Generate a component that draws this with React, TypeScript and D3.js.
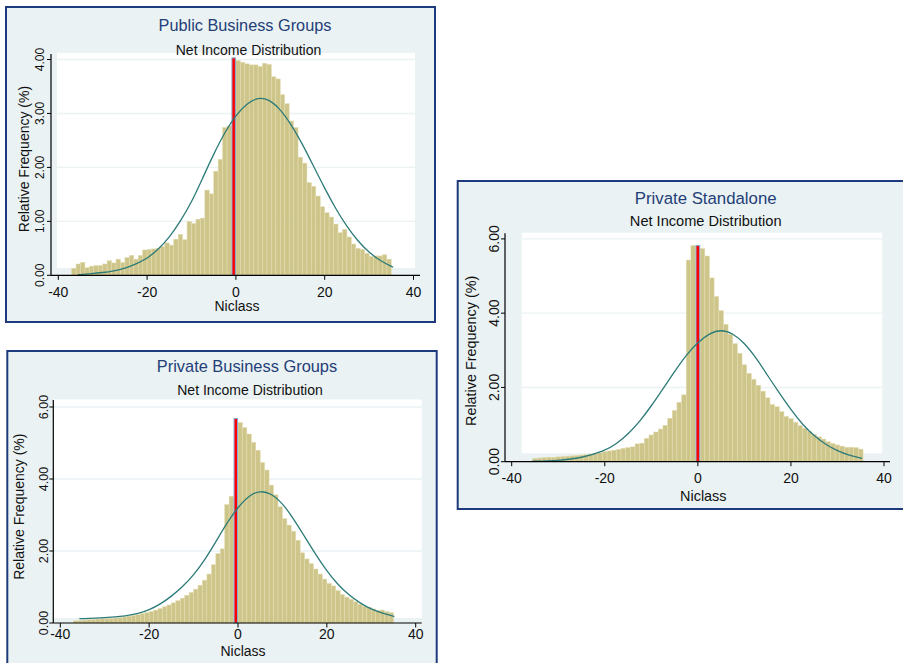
import React from "react";
import * as d3 from "d3";

// ---------- DATA ----------
const X_TICKS = [-40, -20, 0, 20, 40];
const Y_TICKS_PUBLIC = [0, 1, 2, 3, 4];
const Y_TICKS_PRIVATE = [0, 2, 4, 6];
const X_TITLE = "Niclass";
const Y_TITLE = "Relative Frequency (%)";
const SUBTITLE = "Net Income Distribution";

// Public Business Groups: bins of width 1 starting at -37
const PUBLIC_TITLE = "Public Business Groups";
const PUBLIC_BIN_START = -37;
const PUBLIC_RED_BIN = -1;
const publicHeights = [
  0.13, 0.21, 0.24, 0.14, 0.17, 0.18, 0.18, 0.21, 0.27, 0.23, 0.3, 0.24, 0.33, 0.37, 0.3, 0.37, 0.47,
  0.48, 0.49, 0.5, 0.53, 0.6, 0.56, 0.67, 0.76, 0.66, 1.0, 0.96, 1.04, 1.06, 1.58, 1.51, 1.93, 2.15, 2.74, 2.77,
  4.03,
  3.98, 3.95, 3.92, 3.9, 3.9, 3.87, 3.93, 3.91, 3.68, 3.64, 3.35, 3.18, 2.86, 2.74, 2.19, 2.08, 1.72, 1.65,
  1.47, 1.27, 1.16, 1.08, 0.95, 0.79, 0.85, 0.71, 0.58, 0.5, 0.48, 0.41, 0.35, 0.36, 0.36, 0.38, 0.3,
];
const publicCurveX = [-35.6, -32.5, -30, -27.5, -25, -22.5, -20, -17.5, -15, -12.5, -10, -7.5, -5, -2.5, 0, 2.5, 5, 7.5, 10, 12.5, 15, 17.5, 20, 22.5, 25, 27.5, 30, 32.5, 35.4];
const publicCurveY = [0.01, 0.03, 0.05, 0.08, 0.13, 0.21, 0.31, 0.48, 0.7, 1.0, 1.35, 1.8, 2.25, 2.65, 2.97, 3.19, 3.3, 3.26, 3.08, 2.79, 2.43, 2.02, 1.61, 1.23, 0.9, 0.63, 0.42, 0.27, 0.15];

// Private Business Groups
const PRIVBG_TITLE = "Private Business Groups";
const PRIVBG_BIN_START = -37;
const PRIVBG_RED_BIN = -1;
const privBGHeights = [
  0.06, 0.07, 0.08, 0.09, 0.1, 0.11, 0.12, 0.12, 0.13, 0.14, 0.15, 0.17, 0.19, 0.21, 0.23, 0.26, 0.29, 0.32,
  0.36, 0.4, 0.45, 0.5, 0.56, 0.62, 0.69, 0.77, 0.85, 0.94, 1.05, 1.19, 1.36, 1.62, 1.93, 2.06, 3.29, 3.52,
  5.68,
  5.57, 5.43, 5.25, 5.02, 4.8, 4.46, 4.25, 3.83, 3.56, 3.23, 2.9, 2.72, 2.55, 2.3, 1.95, 1.78, 1.65, 1.5,
  1.36, 1.22, 1.1, 1.03, 0.9, 0.79, 0.72, 0.66, 0.59, 0.52, 0.46, 0.44, 0.39, 0.35, 0.36, 0.32, 0.29,
];
const privBGCurveX = [-35.7, -30, -25, -22.5, -20, -17.5, -15, -12.5, -10, -7.5, -5, -2.5, 0, 2.5, 5, 7.5, 10, 12.5, 15, 17.5, 20, 22.5, 25, 27.5, 30, 32.5, 35.2];
const privBGCurveY = [0.12, 0.14, 0.2, 0.26, 0.36, 0.52, 0.74, 1.0, 1.33, 1.75, 2.25, 2.78, 3.22, 3.55, 3.68, 3.6, 3.33, 2.9, 2.4, 1.9, 1.44, 1.06, 0.77, 0.55, 0.38, 0.27, 0.18];

// Private Standalone: bins of width 1 centred on integers
const STAND_TITLE = "Private Standalone";
const STAND_BIN_START = -35.5;
const STAND_RED_BIN = -0.5;
const standHeights = [
  0.09, 0.1, 0.11, 0.12, 0.12, 0.13, 0.14, 0.15, 0.16, 0.17, 0.18, 0.19, 0.21, 0.22, 0.24, 0.27, 0.29, 0.31,
  0.33, 0.36, 0.38, 0.4, 0.48, 0.5, 0.63, 0.72, 0.8, 0.88, 0.98, 1.17, 1.38, 1.6, 1.8, 5.43, 5.82,
  5.82,
  5.74, 5.54, 4.95, 4.45, 4.07, 3.7, 3.43, 3.18, 2.92, 2.61, 2.38, 2.22, 2.06, 1.9, 1.72, 1.54, 1.48, 1.35,
  1.22, 1.16, 1.06, 0.97, 0.9, 0.81, 0.74, 0.67, 0.61, 0.54, 0.49, 0.45, 0.42, 0.39, 0.39, 0.38, 0.34,
];
const standCurveX = [-35.7, -30, -25, -20, -17.5, -15, -12.5, -10, -7.5, -5, -2.5, 0, 2.5, 5, 7.5, 10, 12.5, 15, 17.5, 20, 22.5, 25, 27.5, 30, 32.5, 35.3];
const standCurveY = [0.01, 0.03, 0.1, 0.29, 0.48, 0.74, 1.08, 1.5, 1.96, 2.43, 2.87, 3.22, 3.46, 3.56, 3.46, 3.2, 2.8, 2.32, 1.85, 1.4, 1.0, 0.69, 0.46, 0.29, 0.17, 0.09];

// ---------- STYLE ----------
const FONT = "'Liberation Sans', Arial, Helvetica, sans-serif";
const BG = "#EAF2F3";
const FRAME = "#1D3B7C";
const TITLE_COLOR = "#243E78";
const BAR_FILL = "#CEC58B";
const BAR_STROKE = "#E4DEB2";
const RED = "#FF0000";
const RED_STROKE = "#86A8CF";
const CURVE = "#2C7B78";

type Layout = {
  frame: [number, number, number, number];
  titleX: number; titleY: number; titleSize: number;
  subX: number; subY: number; subSize: number;
  plot: [number, number, number, number];
  xPx: [number, number];
  yPx: [number, number];
  yMax: number;
  yAxisX: number; axisTop: number; xAxisRight: number;
  yLabelX: number; yLabelSize: number;
  xLabelY: number; xLabelSize: number;
  xTitleX: number; xTitleY: number; axisTitleSize: number;
  yTitleX: number; yTitleY: number;
};

type PanelProps = {
  layout: Layout;
  title: string;
  heights: number[];
  binStart: number;
  redBin: number;
  curveX: number[];
  curveY: number[];
  yTicks: number[];
};

function Panel({ layout: L, title, heights, binStart, redBin, curveX, curveY, yTicks }: PanelProps) {
  const x = d3.scaleLinear().domain([-40, 40]).range(L.xPx);
  const y = d3.scaleLinear().domain([0, L.yMax]).range(L.yPx);
  const bins = heights.map((h, i) => ({ x0: binStart + i, x1: binStart + i + 1, h }));
  const redIdx = Math.round(redBin - binStart);
  const red = bins[redIdx];
  const line = d3
    .line<number>()
    .x((_, i) => x(curveX[i]))
    .y((d) => y(d))
    .curve(d3.curveBasis);
  const [fx, fy, fw, fh] = L.frame;
  const [px0, py0, px1, py1] = L.plot;
  const fmt = d3.format(".2f");
  return (
    <g fontFamily={FONT}>
      <rect x={fx} y={fy} width={fw} height={fh} fill={BG} stroke={FRAME} strokeWidth={2} />
      <rect x={px0} y={py0} width={px1 - px0} height={py1 - py0} fill="#FFFFFF" />
      {yTicks.filter((t) => t > 0).map((t) => (
        <line key={"g" + t} x1={px0} x2={px1} y1={y(t)} y2={y(t)} stroke={BG} strokeWidth={1.4} />
      ))}
      {bins.map((b, i) =>
        i === redIdx ? null : (
          <rect
            key={"b" + i}
            x={x(b.x0)}
            y={y(b.h)}
            width={x(b.x1) - x(b.x0)}
            height={y(0) - y(b.h)}
            fill={BAR_FILL}
            stroke={BAR_STROKE}
            strokeWidth={0.5}
          />
        )
      )}
      <rect
        x={x(red.x0) + 0.5}
        y={y(red.h)}
        width={x(red.x1) - x(red.x0) - 1}
        height={y(0) - y(red.h)}
        fill={RED}
        stroke={RED_STROKE}
        strokeWidth={1}
      />
      <path d={line(curveY) || ""} fill="none" stroke={CURVE} strokeWidth={1.3} />
      {/* axes */}
      <line x1={L.yAxisX} x2={L.yAxisX} y1={L.axisTop} y2={y(0)} stroke="#000" strokeWidth={1.2} />
      <line x1={L.yAxisX} x2={L.xAxisRight} y1={y(0)} y2={y(0)} stroke="#000" strokeWidth={1.2} />
      {yTicks.map((t) => (
        <g key={"yt" + t}>
          <line x1={L.yAxisX - 4} x2={L.yAxisX} y1={y(t)} y2={y(t)} stroke="#000" strokeWidth={1} />
          <text
            transform={`translate(${L.yLabelX},${y(t)}) rotate(-90)`}
            textAnchor="middle"
            dy="0.36em"
            fontSize={L.yLabelSize}
            fill="#111"
          >
            {fmt(t)}
          </text>
        </g>
      ))}
      {X_TICKS.map((t) => (
        <g key={"xt" + t}>
          <line x1={x(t)} x2={x(t)} y1={y(0)} y2={y(0) + 4.5} stroke="#000" strokeWidth={1} />
          <text x={x(t)} y={L.xLabelY} textAnchor="middle" fontSize={L.xLabelSize} fill="#111">
            {t}
          </text>
        </g>
      ))}
      <text x={L.xTitleX} y={L.xTitleY} textAnchor="middle" fontSize={L.axisTitleSize} fill="#111">
        {X_TITLE}
      </text>
      <text
        transform={`translate(${L.yTitleX},${L.yTitleY}) rotate(-90)`}
        textAnchor="middle"
        dy="0.36em"
        fontSize={L.axisTitleSize}
        fill="#111"
      >
        {Y_TITLE}
      </text>
      <text x={L.titleX} y={L.titleY} textAnchor="middle" fontSize={L.titleSize} fill={TITLE_COLOR}>
        {title}
      </text>
      <text x={L.subX} y={L.subY} textAnchor="middle" fontSize={L.subSize} fill="#111">
        {SUBTITLE}
      </text>
    </g>
  );
}

const layoutPublic: Layout = {
  frame: [6, 7, 429, 315],
  titleX: 245, titleY: 30.5, titleSize: 16.3,
  subX: 248.5, subY: 55, subSize: 14,
  plot: [57, 53, 415, 268],
  xPx: [58.3, 413.5], yPx: [275.3, 59.5], yMax: 4,
  yAxisX: 51, axisTop: 54, xAxisRight: 420,
  yLabelX: 40, yLabelSize: 12,
  xLabelY: 296.5, xLabelSize: 14,
  xTitleX: 237, xTitleY: 310.7, axisTitleSize: 14,
  yTitleX: 24, yTitleY: 159,
};

const layoutPrivBG: Layout = {
  frame: [7.3, 351, 429.4, 330],
  titleX: 247, titleY: 371.7, titleSize: 16.4,
  subX: 250, subY: 395, subSize: 14,
  plot: [54, 399.5, 421.7, 618],
  xPx: [60.3, 415.7], yPx: [623, 407], yMax: 6,
  yAxisX: 53.3, axisTop: 400, xAxisRight: 421.7,
  yLabelX: 43.3, yLabelSize: 12.5,
  xLabelY: 639, xLabelSize: 14,
  xTitleX: 243, xTitleY: 655.7, axisTitleSize: 14,
  yTitleX: 18.5, yTitleY: 506.7,
};

const layoutStand: Layout = {
  frame: [457.7, 181, 450, 328],
  titleX: 705.7, titleY: 204.3, titleSize: 16.8,
  subX: 705.7, subY: 225.7, subSize: 14.6,
  plot: [521.7, 232.7, 882.3, 453.3],
  xPx: [511.7, 884], yPx: [461.7, 238.9], yMax: 6,
  yAxisX: 505, axisTop: 233.3, xAxisRight: 890,
  yLabelX: 494.3, yLabelSize: 14,
  xLabelY: 483.3, xLabelSize: 14,
  xTitleX: 703.3, xTitleY: 500.5, axisTitleSize: 14.4,
  yTitleX: 471, yTitleY: 350.8,
};

export default function App() {
  return (
    <svg
      width={903}
      height={663}
      style={{ position: "absolute", left: 0, top: 0, background: "#FFFFFF" }}
    >
      <Panel
        layout={layoutPublic}
        title={PUBLIC_TITLE}
        heights={publicHeights}
        binStart={PUBLIC_BIN_START}
        redBin={PUBLIC_RED_BIN}
        curveX={publicCurveX}
        curveY={publicCurveY}
        yTicks={Y_TICKS_PUBLIC}
      />
      <Panel
        layout={layoutPrivBG}
        title={PRIVBG_TITLE}
        heights={privBGHeights}
        binStart={PRIVBG_BIN_START}
        redBin={PRIVBG_RED_BIN}
        curveX={privBGCurveX}
        curveY={privBGCurveY}
        yTicks={Y_TICKS_PRIVATE}
      />
      <Panel
        layout={layoutStand}
        title={STAND_TITLE}
        heights={standHeights}
        binStart={STAND_BIN_START}
        redBin={STAND_RED_BIN}
        curveX={standCurveX}
        curveY={standCurveY}
        yTicks={Y_TICKS_PRIVATE}
      />
    </svg>
  );
}
